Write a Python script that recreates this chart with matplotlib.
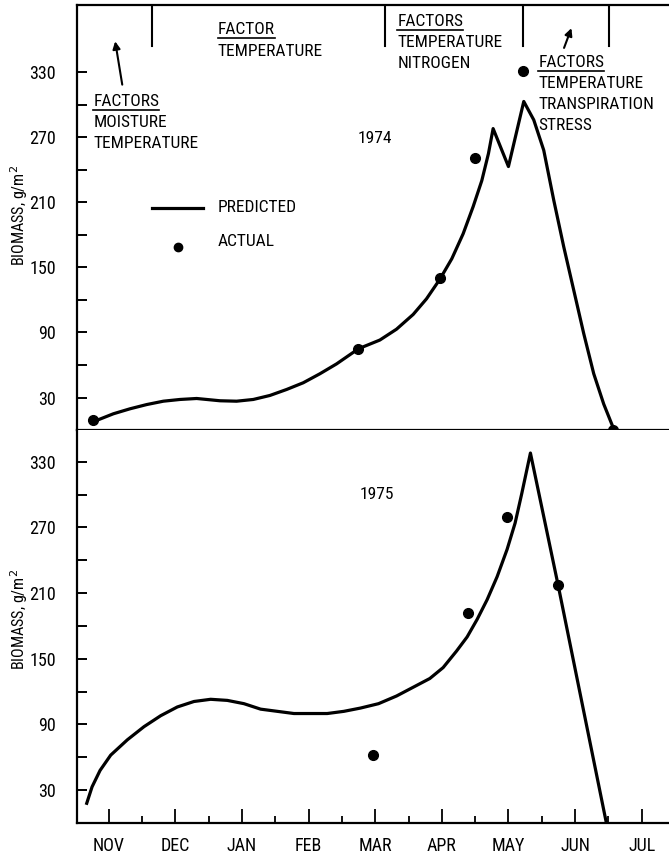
import matplotlib
matplotlib.use('Agg')
import matplotlib.pyplot as plt
from matplotlib.lines import Line2D
import numpy as np

plt.rcParams['font.family'] = ['Roboto Condensed', 'Roboto', 'DejaVu Sans']

# month index: NOV = 0 ... JUL = 8
months = ['NOV', 'DEC', 'JAN', 'FEB', 'MAR', 'APR', 'MAY', 'JUN', 'JUL']

# 1974 predicted curve
pred74_x = [-0.24, -0.16, 0.07, 0.32, 0.57, 0.82, 1.07, 1.32, 1.47, 1.67, 1.92, 2.17,
            2.42, 2.67, 2.92, 3.17, 3.42, 3.75, 4.07, 4.32, 4.57, 4.77, 4.97, 5.15,
            5.32, 5.47, 5.60, 5.70, 5.77, 6.00, 6.23, 6.38, 6.53, 6.68, 6.83, 6.98,
            7.13, 7.28, 7.43, 7.58]
pred74_y = [9, 9.4, 15, 19.6, 23.5, 26.6, 28.2, 29.1, 28.2, 27, 26.6, 28.2,
            31.9, 37.4, 43.6, 51.9, 61, 75, 83, 93, 106.6, 121, 139, 158,
            181, 206, 230, 255, 278, 243, 303, 286, 258, 212, 169, 129,
            89, 52, 24, 1]
act74_x = [-0.24, 3.74, 4.97, 5.50, 6.22, 7.57]
act74_y = [9, 75, 140, 251, 331, 0]

# 1975 predicted curve
pred75_x = [-0.33, -0.25, -0.13, 0.03, 0.28, 0.53, 0.78, 1.03, 1.28, 1.53, 1.78, 2.03,
            2.28, 2.53, 2.78, 3.03, 3.28, 3.53, 3.78, 4.05, 4.32, 4.57, 4.82, 5.02,
            5.22, 5.38, 5.53, 5.68, 5.83, 5.98, 6.10, 6.20, 6.33, 6.75, 7.47]
pred75_y = [18, 33, 48, 62, 76, 88, 98, 106, 111, 113, 112, 109,
            104, 102, 100, 100, 100, 102, 105, 109, 116, 124, 132, 142,
            157, 170, 186, 204, 225, 250, 274, 301, 338, 216, 0]
act75_x = [3.97, 5.40, 5.98, 6.75]
act75_y = [62, 192, 280, 217]

# factor period boundaries (month index)
bounds = [0.65, 4.15, 6.22, 7.51]

fig = plt.figure(figsize=(6.69, 8.57), dpi=100)
ax1 = fig.add_axes([0.1151, 0.4982, 0.8849, 0.4960])
ax2 = fig.add_axes([0.1151, 0.0397, 0.8849, 0.4585])

xl = (-0.476, 8.41)
lw = 2.3
fs = 12.5
tfs = 13

for ax in (ax1, ax2):
    ax.set_xlim(*xl)
    ax.spines['right'].set_visible(False)
    for s in ax.spines.values():
        s.set_linewidth(1.6)
    ax.set_yticks(np.arange(30, 331, 60))
    ax.set_yticks(np.arange(60, 301, 60), minor=True)
    ax.tick_params(axis='y', which='both', direction='in', length=7, width=1.4,
                   labelsize=tfs, pad=15)
    ax.set_ylabel('BIOMASS, g/m$^2$', fontsize=11.5)

ax1.yaxis.set_label_coords(-0.080, 0.505)
ax2.yaxis.set_label_coords(-0.080, 0.517)

ax1.set_ylim(0, 392)
ax2.set_ylim(0, 359)
ax2.spines['top'].set_visible(False)

ax1.set_xticks([])
ax2.set_xticks(range(len(months)))
ax2.set_xticklabels(months)
ax2.set_xticks(np.arange(0.5, 8, 1.0), minor=True)
ax2.tick_params(axis='x', which='major', direction='in', length=10, width=1.3,
                labelsize=tfs, pad=10)
ax2.tick_params(axis='x', which='minor', direction='in', length=5, width=1.3)

ax1.plot(pred74_x, pred74_y, color='black', lw=lw, clip_on=False)
ax1.plot(act74_x, act74_y, 'o', color='black', ms=7, clip_on=False)
ax2.plot(pred75_x, pred75_y, color='black', lw=lw)
ax2.plot(act75_x, act75_y, 'o', color='black', ms=7)

for b in bounds:
    ax1.axvline(b, ymin=0.904, ymax=1.0, color='black', lw=1.5)

ax1.annotate('', xy=(0.09, 361), xytext=(0.21, 316),
             arrowprops=dict(arrowstyle='-|>', color='black', lw=1.5, mutation_scale=11))
ax1.annotate('', xy=(6.96, 373), xytext=(6.82, 350),
             arrowprops=dict(arrowstyle='-|>', color='black', lw=1.5, mutation_scale=11))

groups = [
    (-0.23, 303, ['FACTORS', 'MOISTURE', 'TEMPERATURE']),
    (1.64, 369, ['FACTOR', 'TEMPERATURE']),
    (4.33, 377, ['FACTORS', 'TEMPERATURE', 'NITROGEN']),
    (6.45, 339, ['FACTORS', 'TEMPERATURE', 'TRANSPIRATION', 'STRESS']),
]
heads = []
for gx, gy, lines in groups:
    for i, t in enumerate(lines):
        txt = ax1.text(gx, gy - i * 19.5, t, fontsize=fs, va='center', ha='left')
        if i == 0:
            heads.append(txt)

ax1.text(3.73, 269, '1974', fontsize=fs, va='center', ha='left')
ax2.text(3.76, 300, '1975', fontsize=fs, va='center', ha='left')

# legend drawn by hand
ax1.plot([0.65, 1.42], [205, 205], color='black', lw=lw)
ax1.plot([1.04], [169], 'o', color='black', ms=6)
ax1.text(1.64, 205, 'PREDICTED', fontsize=fs, va='center', ha='left')
ax1.text(1.64, 174, 'ACTUAL', fontsize=fs, va='center', ha='left')

# underline the headings
fig.canvas.draw()
r = fig.canvas.get_renderer()
inv = fig.transFigure.inverted()
for h in heads:
    bb = h.get_window_extent(r)
    (x0, y0), (x1, _) = inv.transform([(bb.x0, bb.y0 - 1), (bb.x1, bb.y0)])
    fig.add_artist(Line2D([x0, x1], [y0, y0], color='black', lw=1.2,
                          transform=fig.transFigure))

fig.savefig('out.png', dpi=100)
